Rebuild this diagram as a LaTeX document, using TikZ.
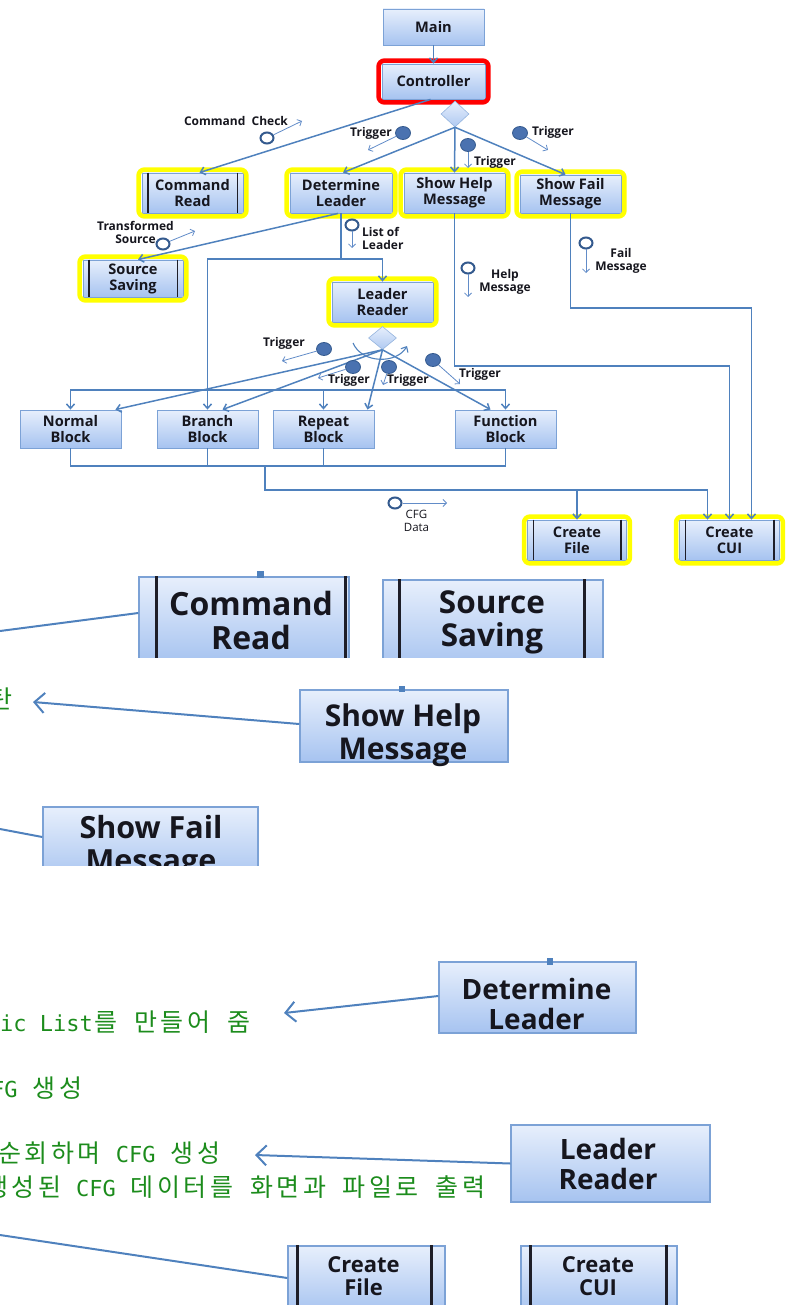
\documentclass[tikz,border=0pt]{standalone}
\usepackage{fontspec}
\setmainfont{Open Sans}
\newfontfamily\kofont{Noto Sans CJK KR}
\newfontfamily\mnfont{DejaVu Sans Mono}
\usetikzlibrary{arrows.meta,shapes.geometric,fit,calc}

\definecolor{edgeblue}{RGB}{79,129,189}
\definecolor{labelblue}{RGB}{98,140,200}
\definecolor{boxtop}{RGB}{231,239,252}
\definecolor{boxbot}{RGB}{166,195,240}
\definecolor{boxline}{RGB}{124,162,214}
\definecolor{dotfill}{RGB}{74,114,176}
\definecolor{dotline}{RGB}{52,90,142}
\definecolor{hiyellow}{RGB}{255,255,0}
\definecolor{hired}{RGB}{255,0,0}
\definecolor{notegreen}{RGB}{28,140,28}
\definecolor{ink}{RGB}{22,22,30}
\definecolor{barink}{RGB}{30,30,40}

% Korean runs in the note lines: every syllable gets a fixed double-width cell
\def\kcells#1{\ifx\relax#1\else\makebox[26.5pt]{#1}\expandafter\kcells\fi}
\newcommand\ko[1]{{\kofont\fontsize{25}{25}\selectfont\kcells#1\relax}}

\tikzset{
  box/.style={draw=boxline, line width=0.9pt, top color=boxtop, bottom color=boxbot,
    inner sep=1pt, align=center, text=ink, font=\fontsize{14.6}{16}\selectfont\bfseries},
  stdbox/.style={box, minimum width=101pt, minimum height=38pt},
  bigbox/.style={draw=boxline, line width=1.4pt, top color=boxtop, bottom color=boxbot},
  bigtext/.style={inner sep=0pt, align=center, text=ink, font=\fontsize{30}{33}\selectfont\bfseries},
  midtext/.style={inner sep=0pt, align=center, text=ink, font=\fontsize{22}{23}\selectfont\bfseries},
  gate/.style={diamond, draw=boxline!80, line width=0.6pt, top color=boxtop, bottom color=boxbot!90,
    inner sep=0pt, minimum width=28pt, minimum height=26pt},
  conn/.style={draw=edgeblue, line width=1.5pt},
  arr/.style={conn, ->},
  bigline/.style={draw=edgeblue, line width=2pt},
  bigarr/.style={draw=edgeblue, line width=2pt, -{Straight Barb[length=10pt,width=20pt]}},
  lblarr/.style={draw=labelblue, line width=0.8pt, -{Straight Barb[length=3.5pt,width=7pt]}},
  fdot/.style={ellipse, draw=dotline, line width=0.8pt, fill=dotfill, minimum width=15pt,
    minimum height=13pt, inner sep=0pt},
  hdot/.style={ellipse, draw=dotline, line width=2pt, fill=white, minimum width=13pt,
    minimum height=11pt, inner sep=0pt},
  lbl/.style={inner sep=0pt, text=ink, align=center, font=\fontsize{12}{13}\selectfont\bfseries},
  lblthin/.style={inner sep=0pt, text=ink, align=center, font=\fontsize{11.5}{12.5}\selectfont},
  hly/.style={draw=hiyellow, line width=4.5pt, rounded corners=6pt, inner sep=3pt},
  hlr/.style={draw=hired, line width=4.5pt, rounded corners=6pt, inner sep=3pt},
  bar/.style={draw=barink, line width=1.5pt},
  bigbar/.style={draw=barink, line width=3pt},
  note/.style={inner sep=0pt, text=notegreen, font=\fontsize{22}{26}\selectfont\mnfont},
}

\begin{document}
\begin{tikzpicture}[x=1pt,y=-1pt,>={Straight Barb[length=4.5pt,width=8pt]}]
\useasboundingbox (0,0) rectangle (785,1305);

% ---------------- upper diagram: process boxes ----------------
\node[stdbox, minimum height=36pt] (main) at (433.5,27) {Main};
\node[stdbox, minimum width=103pt, minimum height=35pt] (ctrl) at (433.5,81.5) {Controller};
\node[stdbox, minimum height=40pt] (cmd)  at (192.5,193) {Command\\Read};
\node[stdbox, minimum width=102pt, minimum height=40pt] (dl) at (341,193) {Determine\\Leader};
\node[stdbox, minimum height=40pt] (help) at (454.5,193) {Show Help\\Message};
\node[stdbox, minimum height=38pt] (fail) at (570.5,194) {Show Fail\\Message};
\node[stdbox, minimum width=100pt, minimum height=37pt] (src) at (133,278.5) {Source\\Saving};
\node[stdbox, minimum height=40pt] (lr)   at (382.5,302) {Leader\\Reader};
\node[stdbox] (nb) at (70.5,429)  {Normal\\Block};
\node[stdbox] (bb) at (207.5,429) {Branch\\Block};
\node[stdbox] (rb) at (323.5,429) {Repeat\\Block};
\node[stdbox] (fb) at (505.5,429) {Function\\Block};
\node[stdbox, minimum width=99pt, minimum height=40pt] (cf) at (577,540) {Create\\File};
\node[stdbox, minimum width=100pt, minimum height=40pt] (cui) at (729.5,540) {Create\\CUI};

% predefined-process side bars
\foreach \n in {cmd,src,cf,cui}{
  \draw[bar] ([xshift=6.5pt]\n.north west) -- ([xshift=6.5pt]\n.south west);
  \draw[bar] ([xshift=-6pt]\n.north east) -- ([xshift=-6pt]\n.south east);
}

% highlight frames
\node[hlr, fit=(ctrl)] (ctrlmark) {};
\foreach \n in {cmd,dl,help,fail,src,lr,cf,cui}{
  \node[hly, fit=(\n)] (\n mark) {};
}

% decision points
\node[gate] (g1) at (455,114) {};
\node[gate, minimum height=23pt] (g2) at (382.5,338) {};

% ---------------- upper diagram: connectors ----------------
\draw[arr] (main) -- (ctrl);
\draw[arr] ([xshift=-3pt]ctrl.south) -- ([xshift=7pt]cmd.north);
\draw[arr] (g1.south) -- ([xshift=2pt]dl.north);
\draw[arr] (g1.south) -- (help.north);
\draw[arr] (g1.south) -- ([xshift=-5pt]fail.north);
\draw[arr] ([xshift=-3pt]dl.south) -- ([xshift=5pt]src.north);

\coordinate (dlbus) at (dl.south |- 0,259);
\draw[conn] (dl.south) -- (dlbus);
\draw[arr] (dlbus) -| (bb.north);
\draw[arr] (dlbus) -| (lr.north);

\coordinate (topbus) at (0,390);
\draw[conn,<->] (nb.north) |- (fb.north |- topbus) -- (fb.north);
\draw[arr] (rb.north |- topbus) -- (rb.north);

\draw[arr] (g2.south) -- ([xshift=-6pt]nb.north east);
\draw[arr] (g2.south) -- ([xshift=15pt]bb.north);
\draw[arr] (g2.south) -- ([xshift=-7pt]rb.north east);
\draw[arr] (g2.south) -- ([xshift=-15pt]fb.north);
\coordinate (loopA) at (353,343);
\coordinate (loopB) at (407,346);
\draw[draw=edgeblue, line width=1.1pt, ->] (loopA) .. controls (362,364) and (397,364) .. (loopB);

\coordinate (lowbus) at (0,466);
\draw[conn] (nb.south) |- (fb.south |- lowbus) -- (fb.south);
\draw[conn] (bb.south) -- (bb.south |- lowbus);
\draw[conn] (rb.south) -- (rb.south |- lowbus);
\coordinate (cfgtap) at (265,466);
\coordinate (cuiL) at ($(cui.north)+(-22,0)$);
\coordinate (cuiR) at ($(cui.north)+(22,0)$);
\draw[arr] (cfgtap) |- (cuiL |- 0,490) -- (cuiL);
\draw[arr] (cf.north |- 0,490) -- (cf.north);
\draw[arr] (help.south) |- (cui.north |- 0,366) -- (cui.north);
\draw[arr] (fail.south) |- (cuiR |- 0,308) -- (cuiR);

% ---------------- upper diagram: flow labels ----------------
\node[hdot] (ccdot) at (267,138) {};
\coordinate (ccend) at (302,121);
\draw[lblarr] (ccdot) -- (ccend);
\node[lbl] (cclbl) at (236,121) {Command\ \ Check};

\node[fdot] (t1) at (403,133) {};
\coordinate (t1end) at (368,150);
\draw[lblarr] (t1) -- (t1end);
\node[lbl] (t1lbl) at (371,133) {Trigger};

\node[fdot] (t2) at (468,145) {};
\coordinate (t2end) at (468,168);
\draw[lblarr] (t2) -- (t2end);
\node[lbl] (t2lbl) at (495,162) {Trigger};

\node[fdot] (t3) at (520,133) {};
\coordinate (t3end) at (548,150);
\draw[lblarr] (t3) -- (t3end);
\node[lbl] (t3lbl) at (553,132) {Trigger};

\node[hdot] (tsdot) at (163,244) {};
\coordinate (tsend) at (195,231);
\draw[lblarr] (tsdot) -- (tsend);
\node[lbl] (tslbl) at (135.5,232) {Transformed\\Source};

\node[hdot] (lodot) at (352,225) {};
\coordinate (loend) at (352,248);
\draw[lblarr] (lodot) -- (loend);
\node[lbl, anchor=west, align=left] (lolbl) at (362,238.5) {List of\\Leader};

\node[hdot] (hmdot) at (468,268) {};
\coordinate (hmend) at (468,297);
\draw[lblarr] (hmdot) -- (hmend);
\node[lbl] (hmlbl) at (505,281.5) {Help\\Message};

\node[hdot] (fmdot) at (586,243) {};
\coordinate (fmend) at (586,273);
\draw[lblarr] (fmdot) -- (fmend);
\node[lbl] (fmlbl) at (621,260.5) {Fail\\Message};

\node[hdot] (cfgdot) at (395,503) {};
\coordinate (cfgend) at (447,503);
\draw[lblarr] (cfgdot) -- (cfgend);
\node[lblthin] (cfglbl) at (416.5,521) {CFG\\Data};

\node[fdot] (t4) at (324,349) {};
\coordinate (t4end) at (282,361);
\draw[lblarr] (t4) -- (t4end);
\node[lbl] (t4lbl) at (284,343) {Trigger};

\node[fdot] (t5) at (353,367) {};
\coordinate (t5end) at (318,378);
\draw[lblarr] (t5) -- (t5end);
\node[lbl] (t5lbl) at (349,380) {Trigger};

\node[fdot] (t6) at (389,367) {};
\coordinate (t6end) at (383,385);
\draw[lblarr] (t6) -- (t6end);
\node[lbl] (t6lbl) at (408,380) {Trigger};

\node[fdot] (t7) at (433,360) {};
\coordinate (t7end) at (460,384);
\draw[lblarr] (t7) -- (t7end);
\node[lbl] (t7lbl) at (480,374) {Trigger};

% ---------------- lower part: enlarged boxes with notes ----------------
\begin{scope}
  \clip (0,560) rectangle (785,657);
  \node[bigbox, minimum width=210pt, minimum height=86pt] (cmdB) at (244,620) {};
  \node[bigbox, minimum width=220pt, minimum height=90pt] (srcB) at (493,625) {};
  \draw[bigbar] ([xshift=18pt]cmdB.north west) -- ([xshift=18pt]cmdB.south west);
  \draw[bigbar] ([xshift=-4pt]cmdB.north east) -- ([xshift=-4pt]cmdB.south east);
  \draw[bigbar] ([xshift=17pt]srcB.north west) -- ([xshift=17pt]srcB.south west);
  \draw[bigbar] ([xshift=-19pt]srcB.north east) -- ([xshift=-19pt]srcB.south east);
\end{scope}
\node[bigtext, font=\fontsize{32}{34}\selectfont\bfseries] (cmdBt) at (251,620) {Command\\Read};
\node[bigtext, font=\fontsize{31.5}{33}\selectfont\bfseries] (srcBt) at (492,622) {Source\\Saving};
\fill[edgeblue] (257,571) rectangle (264,578);

\node[bigbox, minimum width=208pt, minimum height=72pt] (helpB) at (404,726) {};
\node[bigtext] (helpBt) at (403,735) {Show Help\\Message};
\fill[edgeblue] (399,686) rectangle (405,692);

\begin{scope}
  \clip (0,790) rectangle (785,865);
  \node[bigbox, minimum width=215pt, minimum height=76pt] (failB) at (150.5,845) {};
  \node[bigtext, font=\fontsize{30.5}{33}\selectfont\bfseries] (failBt) at (151,847) {Show Fail\\Message};
\end{scope}

\node[bigbox, minimum width=197pt, minimum height=71pt] (dlB) at (537.5,997.5) {};
\node[bigtext, font=\fontsize{28}{29.5}\selectfont\bfseries] (dlBt) at (536.5,1004) {Determine\\Leader};
\fill[edgeblue] (547,958) rectangle (553,965);

\node[bigbox, minimum width=199pt, minimum height=77pt] (lrB) at (610.5,1163.5) {};
\node[bigtext, font=\fontsize{28}{29.5}\selectfont\bfseries] (lrBt) at (608,1164) {Leader\\Reader};

\node[bigbox, minimum width=157pt, minimum height=68pt] (cfB) at (366.5,1280) {};
\node[bigbox, minimum width=156pt, minimum height=68pt] (cuiB) at (599,1280) {};
\draw[bigbar] ([xshift=10pt]cfB.north west) -- ([xshift=10pt]cfB.south west);
\draw[bigbar] ([xshift=-14pt]cfB.north east) -- ([xshift=-14pt]cfB.south east);
\draw[bigbar] ([xshift=10pt]cuiB.north west) -- ([xshift=10pt]cuiB.south west);
\draw[bigbar] ([xshift=-11pt]cuiB.north east) -- ([xshift=-11pt]cuiB.south east);
\node[midtext] (cfBt) at (363.5,1276.5) {Create\\File};
\node[midtext] (cuiBt) at (598,1276.5) {Create\\CUI};

% notes
\node[note, anchor=east] (noteHelp) at (14,699) {\ko{탄}};
\node[note, anchor=east] (noteLeader) at (252,1022) {ic List\ko{를} \ko{만들어} \ko{줌}};
\node[note, anchor=east] (noteCfg) at (84,1088) {FG \ko{생성}};
\node[note, anchor=east] (noteWalk) at (222,1153) {\ko{순회하며} CFG \ko{생성}};
\node[note, anchor=east] (noteOut) at (487,1187) {\ko{생성된} CFG \ko{데이터를} \ko{화면과} \ko{파일로} \ko{출력}};

% pointers from the enlarged boxes
\coordinate (inCmd) at (0,631);
\draw[bigline] (inCmd) -- ([yshift=7pt]cmdB.west);
\coordinate (helpTip) at (33,702);
\draw[bigarr] ([yshift=2pt]helpB.west) -- (helpTip);
\coordinate (inFail) at (0,829);
\draw[bigline] (inFail) -- ([yshift=8pt]failB.west);
\coordinate (dlTip) at (284,1013);
\draw[bigarr] ([yshift=1.5pt]dlB.west) -- (dlTip);
\coordinate (lrTip) at (255,1155);
\draw[bigarr] (lrB.west) -- (lrTip);
\coordinate (inFile) at (0,1235);
\draw[bigline] (inFile) -- ([yshift=2pt]cfB.west);

\end{tikzpicture}
\end{document}
